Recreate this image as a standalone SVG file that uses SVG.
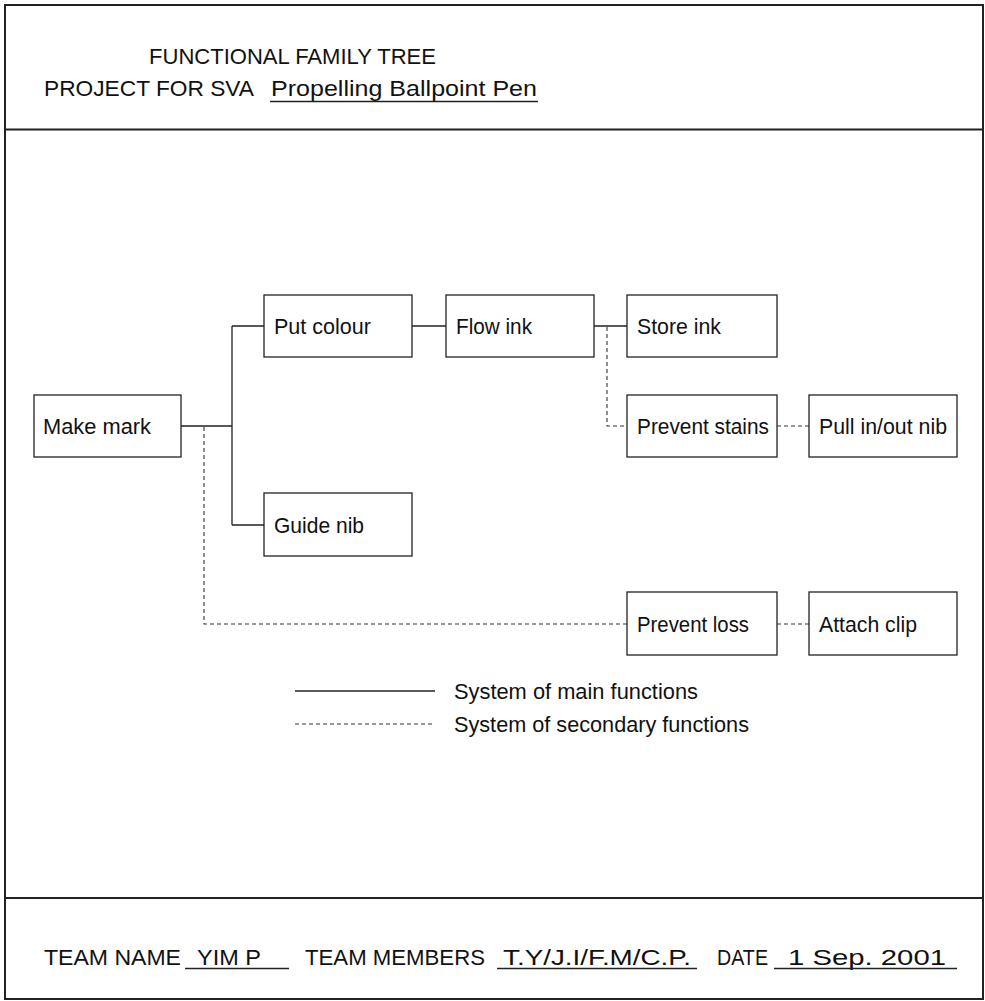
<svg xmlns="http://www.w3.org/2000/svg" width="985" height="1001" viewBox="0 0 985 1001">
  <style>
    .frame { fill: none; stroke: #222; stroke-width: 2; }
    .box { fill: #fff; stroke: #222; stroke-width: 1.3; }
    .t { font-family: "Liberation Sans", Arial, sans-serif; font-size: 21.5px; fill: #111; }
    .big { font-size: 22.5px; }
    .main { fill: none; stroke: #222; stroke-width: 1.3; }
    .sec { fill: none; stroke: #333; stroke-width: 1.1; stroke-dasharray: 4 3; }
    .rule { stroke: #222; stroke-width: 1.3; }
  </style>

  <!-- sheet frame -->
  <rect class="frame" x="5" y="5" width="978" height="994"/>
  <line class="frame" x1="5" y1="129.5" x2="983" y2="129.5"/>
  <line class="frame" x1="5" y1="898" x2="983" y2="898"/>

  <!-- title block -->
  <g id="title">
    <text class="t big" x="149" y="64" textLength="287" lengthAdjust="spacingAndGlyphs">FUNCTIONAL FAMILY TREE</text>
    <text class="t big" x="44" y="96" textLength="210" lengthAdjust="spacingAndGlyphs">PROJECT FOR SVA</text>
    <text class="t big" x="271" y="96" textLength="266" lengthAdjust="spacingAndGlyphs">Propelling Ballpoint Pen</text>
    <line class="rule" x1="270" y1="101.5" x2="538" y2="101.5"/>
  </g>

  <!-- connectors -->
  <g id="connectors">
    <path class="main" d="M181 426 H232 M232 326 V525 M232 326 H264 M232 525 H264"/>
    <path class="main" d="M412 326 H446"/>
    <path class="main" d="M594 326 H627"/>
    <path class="sec" d="M607 327 V426 H627"/>
    <path class="sec" d="M777 426 H809"/>
    <path class="sec" d="M204 427 V624 H627"/>
    <path class="sec" d="M777 624 H809"/>
  </g>

  <!-- nodes -->
  <g id="make-mark">
    <rect class="box" x="34" y="395" width="147" height="62"/>
    <text class="t" x="43" y="434" textLength="108" lengthAdjust="spacingAndGlyphs">Make mark</text>
  </g>
  <g id="put-colour">
    <rect class="box" x="264" y="295" width="148" height="62"/>
    <text class="t" x="274" y="334" textLength="97" lengthAdjust="spacingAndGlyphs">Put colour</text>
  </g>
  <g id="guide-nib">
    <rect class="box" x="264" y="493" width="148" height="63"/>
    <text class="t" x="274" y="533" textLength="90" lengthAdjust="spacingAndGlyphs">Guide nib</text>
  </g>
  <g id="flow-ink">
    <rect class="box" x="446" y="295" width="148" height="62"/>
    <text class="t" x="456" y="334" textLength="76" lengthAdjust="spacingAndGlyphs">Flow ink</text>
  </g>
  <g id="store-ink">
    <rect class="box" x="627" y="295" width="150" height="62"/>
    <text class="t" x="637" y="334" textLength="84" lengthAdjust="spacingAndGlyphs">Store ink</text>
  </g>
  <g id="prevent-stains">
    <rect class="box" x="627" y="395" width="150" height="62"/>
    <text class="t" x="637" y="434" textLength="132" lengthAdjust="spacingAndGlyphs">Prevent stains</text>
  </g>
  <g id="pull-nib">
    <rect class="box" x="809" y="395" width="148" height="62"/>
    <text class="t" x="819" y="434" textLength="128" lengthAdjust="spacingAndGlyphs">Pull in/out nib</text>
  </g>
  <g id="prevent-loss">
    <rect class="box" x="627" y="592" width="150" height="63"/>
    <text class="t" x="637" y="632" textLength="112" lengthAdjust="spacingAndGlyphs">Prevent loss</text>
  </g>
  <g id="attach-clip">
    <rect class="box" x="809" y="592" width="148" height="63"/>
    <text class="t" x="819" y="632" textLength="98" lengthAdjust="spacingAndGlyphs">Attach clip</text>
  </g>

  <!-- key -->
  <g id="legend">
    <line class="main" x1="295" y1="691" x2="435" y2="691"/>
    <text class="t" x="454" y="699" textLength="244" lengthAdjust="spacingAndGlyphs">System of main functions</text>
    <line class="sec" x1="295" y1="724" x2="435" y2="724"/>
    <text class="t" x="454" y="732" textLength="295" lengthAdjust="spacingAndGlyphs">System of secondary functions</text>
  </g>

  <!-- team details -->
  <g id="footer">
    <text class="t big" x="44" y="965" textLength="137" lengthAdjust="spacingAndGlyphs">TEAM NAME</text>
    <text class="t big" x="197" y="965" textLength="64" lengthAdjust="spacingAndGlyphs">YIM P</text>
    <line class="rule" x1="185" y1="968.5" x2="289" y2="968.5"/>
    <text class="t big" x="305" y="965" textLength="180" lengthAdjust="spacingAndGlyphs">TEAM MEMBERS</text>
    <text class="t big" x="503" y="965" textLength="188" lengthAdjust="spacingAndGlyphs">T.Y/J.I/F.M/C.P.</text>
    <line class="rule" x1="497" y1="968.5" x2="697" y2="968.5"/>
    <text class="t big" x="717" y="965" textLength="51" lengthAdjust="spacingAndGlyphs">DATE</text>
    <text class="t big" x="788" y="965" textLength="158" lengthAdjust="spacingAndGlyphs">1 Sep. 2001</text>
    <line class="rule" x1="774" y1="968.5" x2="957" y2="968.5"/>
  </g>
</svg>
